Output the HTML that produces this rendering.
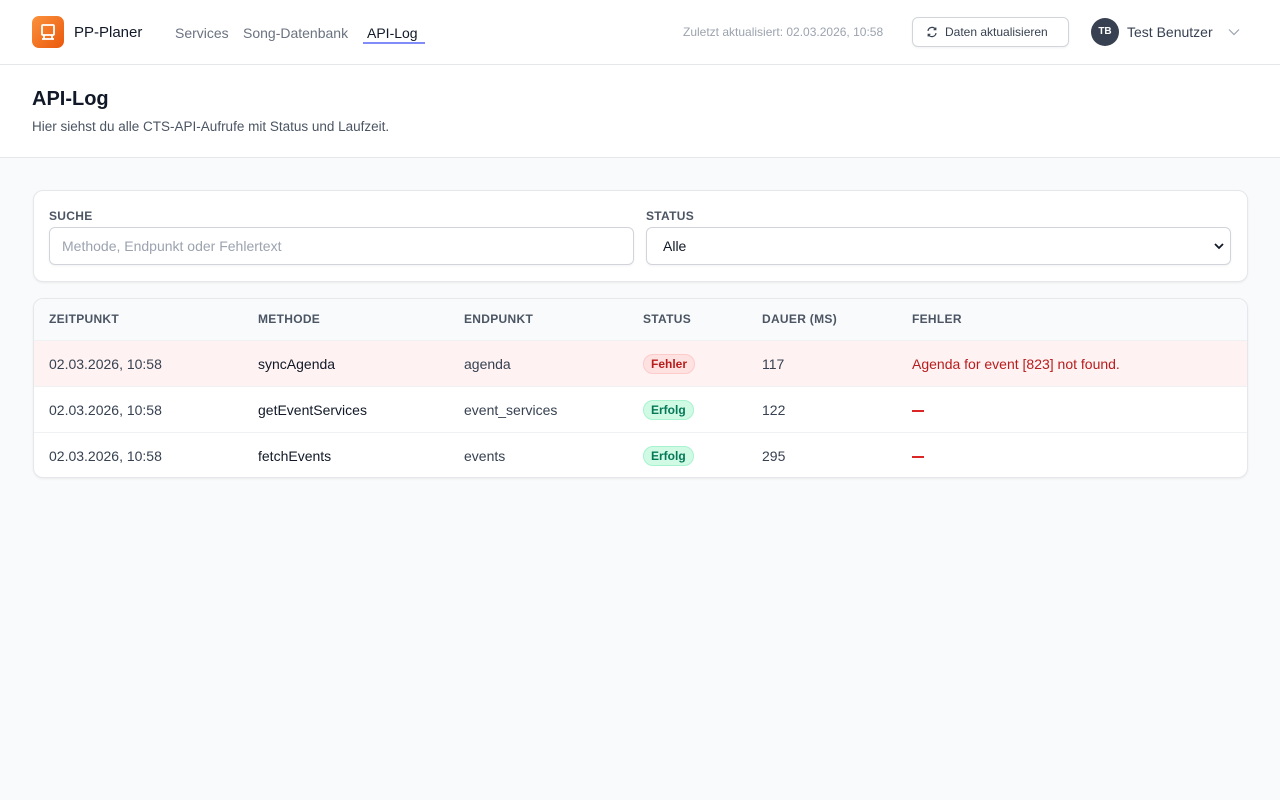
<!DOCTYPE html>
<html><head><meta charset="utf-8"><style>
*{box-sizing:border-box;margin:0;padding:0}
body{width:1280px;height:800px;background:#f9fafb;font-family:"Liberation Sans",sans-serif;color:#111827;position:relative;overflow:hidden}
.hdr{position:absolute;left:0;top:0;width:1280px;height:65px;background:#fff;border-bottom:1px solid #e5e7eb}
.abs{position:absolute;white-space:nowrap}
.logo{left:32px;top:16px;width:32px;height:32px;border-radius:7px;background:linear-gradient(135deg,#fb923c,#ea580c)}
.sec{position:absolute;left:0;top:65px;width:1280px;height:93px;background:#fff;border-bottom:1px solid #e5e7eb}
.card{position:absolute;left:33px;width:1215px;background:#fff;border:1px solid #e5e7eb;border-radius:10px;box-shadow:0 1px 2px rgba(0,0,0,.06)}
.lbl{font-size:12px;font-weight:bold;color:#4b5563;letter-spacing:.3px}
.inp{position:absolute;top:36px;height:38px;border:1px solid #d1d5db;border-radius:6px;font-size:14px;padding:10px 12px;box-shadow:0 1px 2px rgba(0,0,0,.05)}
.th{font-size:12px;font-weight:bold;color:#4b5563;letter-spacing:.3px;top:13px}
.row{position:absolute;left:0;width:1213px;height:46px;border-top:1px solid #f0f1f3}
.row span{position:absolute;top:15px;font-size:14px;color:#374151;white-space:nowrap}
.b{color:#111827!important}
.badge{top:13px!important;font-size:12px!important;font-weight:bold;padding:2px 7px;border-radius:10px}
.f{background:#fee2e2;border:1px solid #fecaca;color:#b91c1c!important}
.e{background:#d1fae5;border:1px solid #a7f3d0;color:#047857!important}
.dash{position:absolute;top:23px;width:12px;height:1.5px;background:#dc2626}
</style></head><body>
<div class="hdr">
<div class="abs logo"><svg width="32" height="32" viewBox="0 0 32 32"><rect x="10" y="9" width="12" height="10" rx="1" fill="none" stroke="#fff" stroke-width="1.8"/><path d="M12 19v4M20 19v4M10 23h12" stroke="#fff" stroke-width="1.8"/></svg></div>
<div class="abs" style="left:74px;top:24px;font-size:15px;color:#111827">PP-Planer</div>
<div class="abs" style="left:175px;top:25px;font-size:14px;color:#6b7280">Services</div>
<div class="abs" style="left:243px;top:25px;font-size:14px;color:#6b7280">Song-Datenbank</div>
<div class="abs" style="left:367px;top:25px;font-size:14px;color:#111827">API-Log</div>
<div class="abs" style="left:363px;top:42px;width:62px;height:2px;background:#818cf8"></div>
<div class="abs" style="left:683px;top:25px;font-size:12px;color:#9ca3af">Zuletzt aktualisiert: 02.03.2026, 10:58</div>
<div class="abs" style="left:912px;top:17px;width:157px;height:30px;border:1px solid #d1d5db;border-radius:6px;box-shadow:0 1px 2px rgba(0,0,0,.06)"><svg style="position:absolute;left:13px;top:8px" width="12" height="12" viewBox="0 0 12 12" fill="none" stroke="#374151" stroke-width="1.2"><path d="M2 5a4 4 0 0 1 7.5-1.5M10 7a4 4 0 0 1-7.5 1.5"/><path d="M9.8 1.5v2.2H7.6M2.2 10.5V8.3h2.2"/></svg><span style="position:absolute;left:32px;top:7px;font-size:12px;color:#374151">Daten aktualisieren</span></div>
<div class="abs" style="left:1091px;top:18px;width:28px;height:28px;border-radius:14px;background:#374151;color:#fff;font-size:10px;font-weight:bold;text-align:center;line-height:28px">TB</div>
<div class="abs" style="left:1127px;top:24px;font-size:14px;color:#374151">Test Benutzer</div>
<svg class="abs" style="left:1228px;top:28px" width="12" height="8" viewBox="0 0 12 8" fill="none" stroke="#9ca3af" stroke-width="1.2"><path d="M1 1.5l5 5 5-5"/></svg>
</div>
<div class="sec">
<div class="abs" style="left:32px;top:23px;font-size:20px;font-weight:bold">API-Log</div>
<div class="abs" style="left:32px;top:54px;font-size:13.5px;color:#4b5563">Hier siehst du alle CTS-API-Aufrufe mit Status und Laufzeit.</div>
</div>
<div class="card" style="top:190px;height:92px">
<div class="abs lbl" style="left:15px;top:18px">SUCHE</div>
<div class="inp" style="left:15px;width:585px;color:#9ca3af">Methode, Endpunkt oder Fehlertext</div>
<div class="abs lbl" style="left:612px;top:18px">STATUS</div>
<div class="inp" style="left:612px;width:585px;color:#111827;padding-left:16px">Alle<svg style="position:absolute;right:6px;top:14px" width="10" height="8" viewBox="0 0 10 8" fill="none" stroke="#111827" stroke-width="1.8"><path d="M1 2l4 4 4-4"/></svg></div>
</div>
<div class="card" style="top:298px;height:180px;overflow:hidden">
<div style="position:absolute;left:0;top:0;width:1213px;height:42px;background:#f9fafb"></div>
<div class="abs th" style="left:15px">ZEITPUNKT</div>
<div class="abs th" style="left:224px">METHODE</div>
<div class="abs th" style="left:430px">ENDPUNKT</div>
<div class="abs th" style="left:609px">STATUS</div>
<div class="abs th" style="left:728px">DAUER (MS)</div>
<div class="abs th" style="left:878px">FEHLER</div>
<div class="row" style="top:41px;background:#fef2f2"><span style="left:15px">02.03.2026, 10:58</span><span class="b" style="left:224px">syncAgenda</span><span style="left:430px">agenda</span><span class="badge f" style="left:609px">Fehler</span><span style="left:728px">117</span><span style="left:878px;color:#b91c1c">Agenda for event [823] not found.</span></div>
<div class="row" style="top:87px"><span style="left:15px">02.03.2026, 10:58</span><span class="b" style="left:224px">getEventServices</span><span style="left:430px">event_services</span><span class="badge e" style="left:609px">Erfolg</span><span style="left:728px">122</span><div class="dash" style="left:878px"></div></div>
<div class="row" style="top:133px"><span style="left:15px">02.03.2026, 10:58</span><span class="b" style="left:224px">fetchEvents</span><span style="left:430px">events</span><span class="badge e" style="left:609px">Erfolg</span><span style="left:728px">295</span><div class="dash" style="left:878px"></div></div>
</div>
</body></html>
